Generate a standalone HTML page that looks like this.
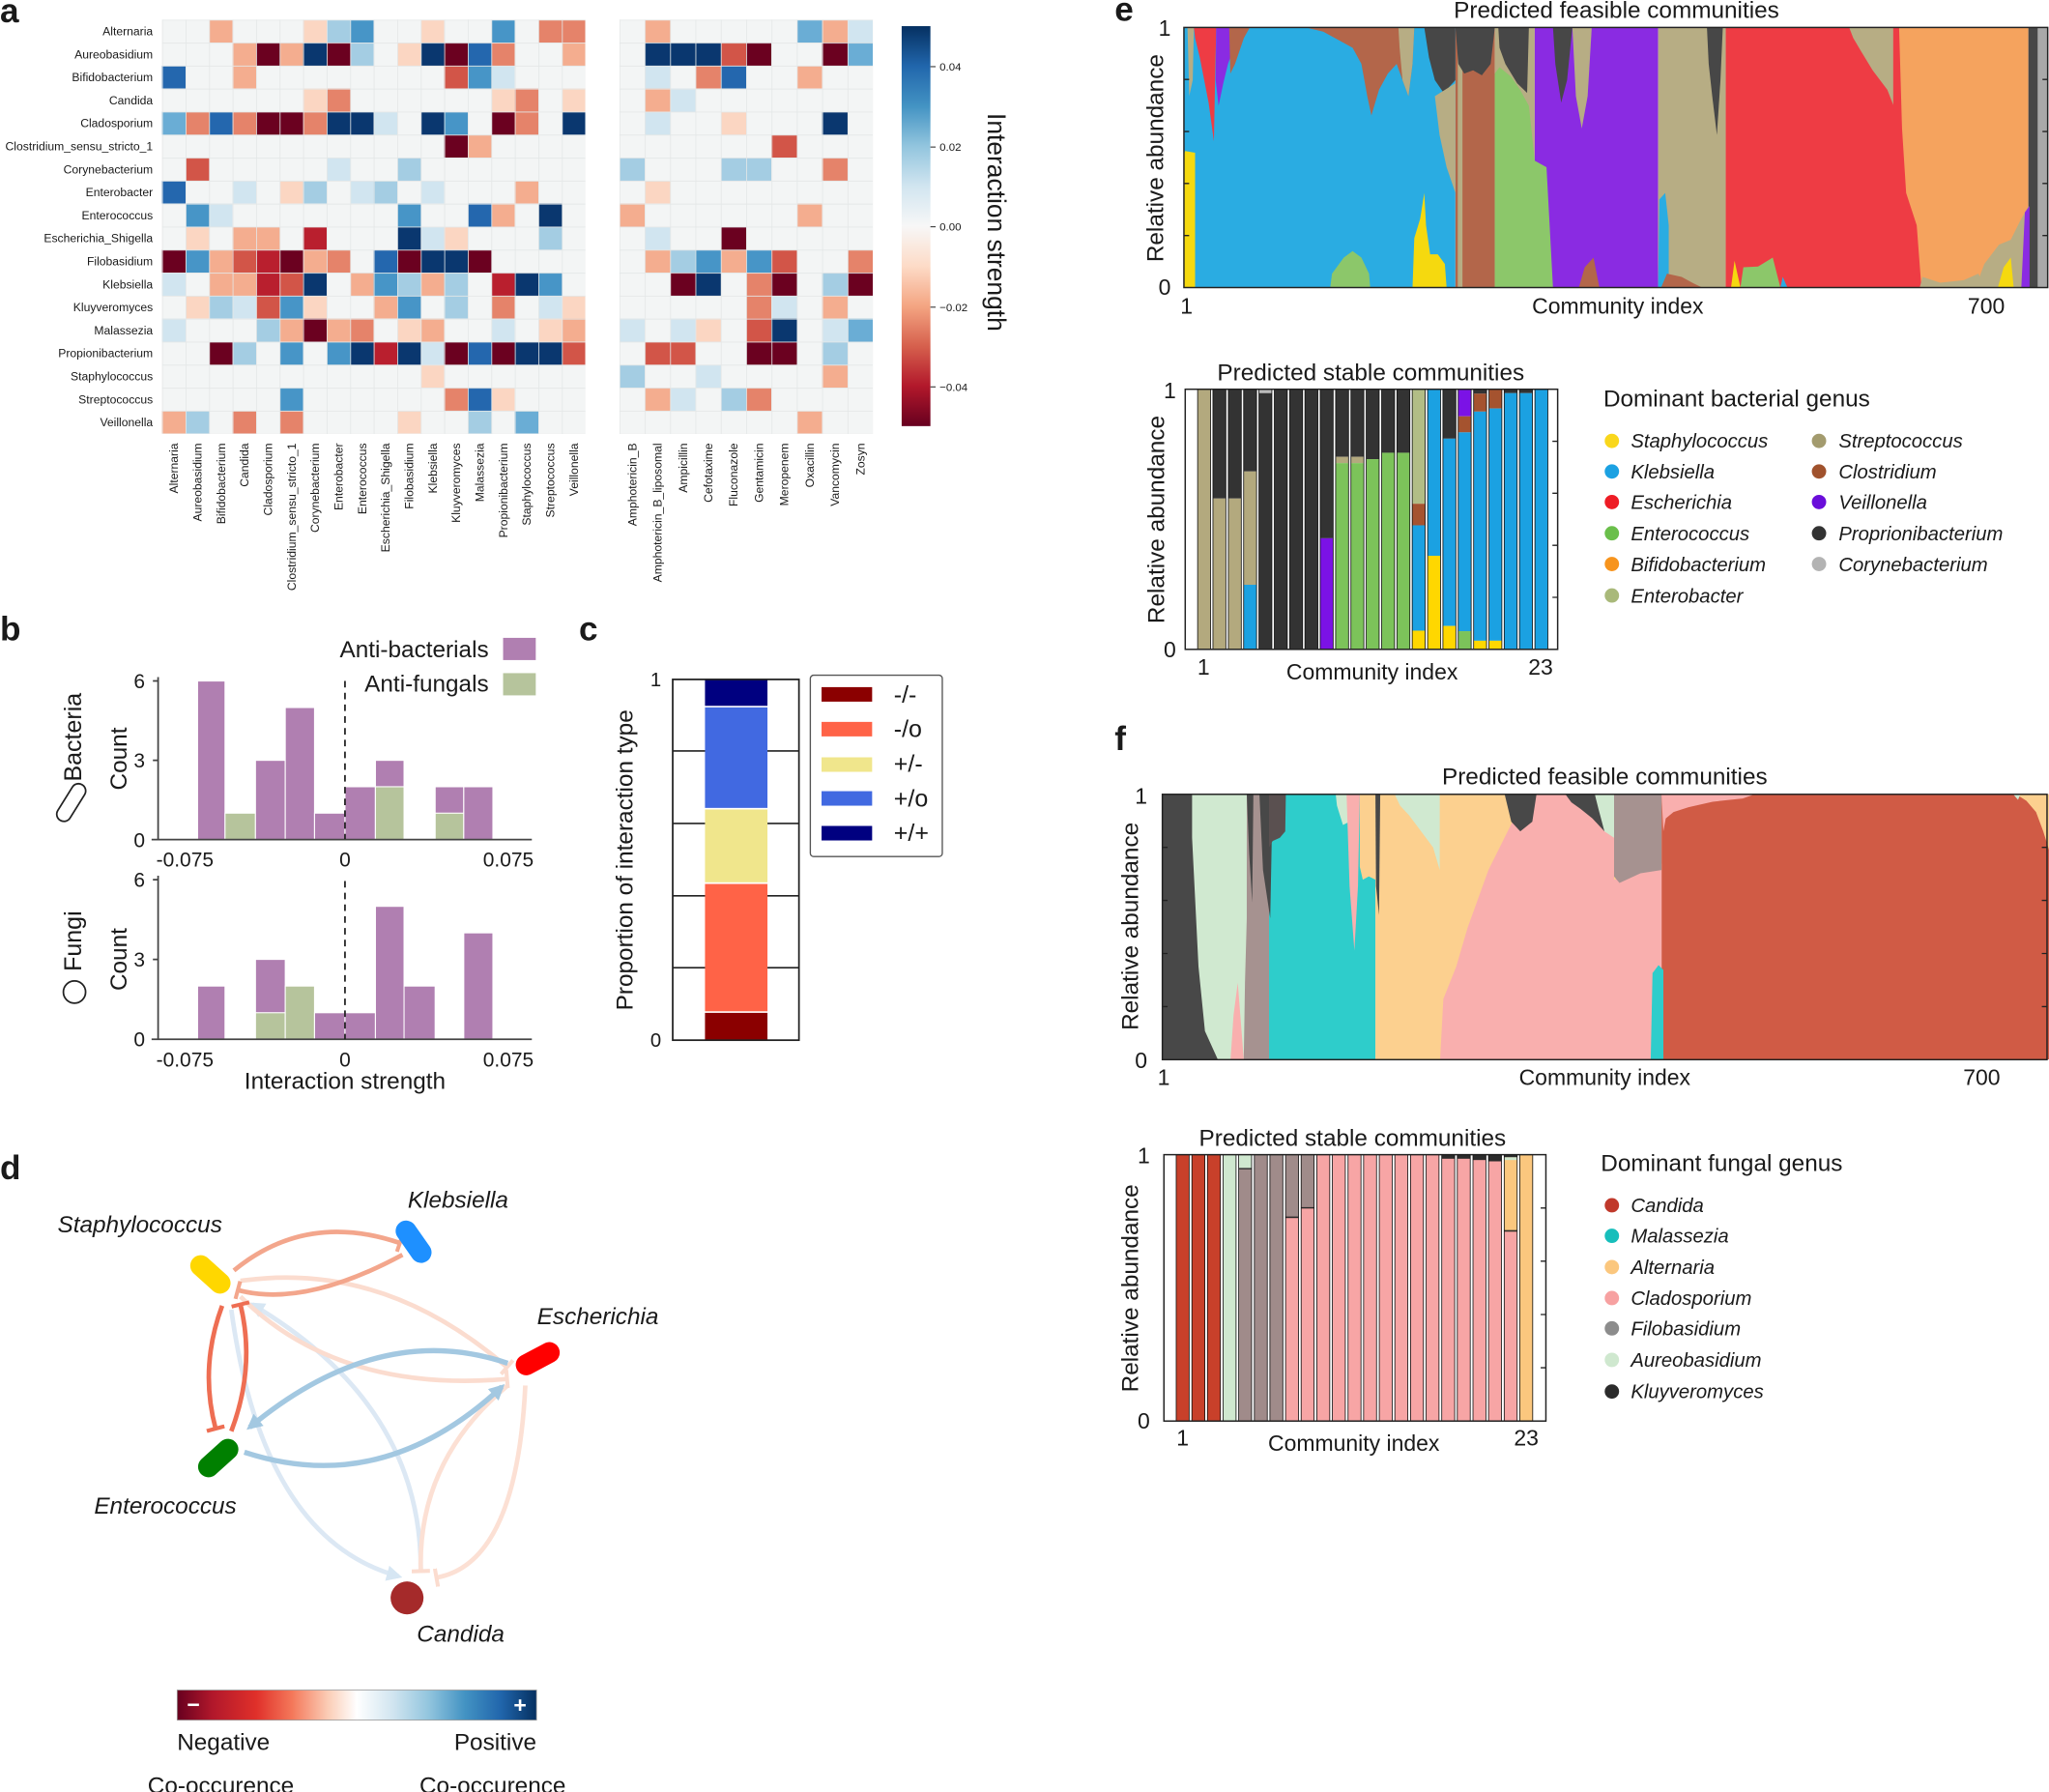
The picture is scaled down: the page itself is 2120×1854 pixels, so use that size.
<!DOCTYPE html>
<html><head><meta charset="utf-8">
<style>
html,body{margin:0;padding:0;background:#fff;overflow:hidden;}
svg{display:block;}
.W{fill:#f3f5f5}.p{fill:#fbd6c2}.q{fill:#f4ad8f}.s{fill:#e5836a}.r{fill:#d25548}.R{fill:#b91f2e}.D{fill:#6b0120}
.b{fill:#d1e5f0}.c{fill:#a4cde3}.l{fill:#6aadd5}.m{fill:#4795c7}.B{fill:#2467ae}.N{fill:#0a376f}
text{fill:#1a1a1a}
.it{font-style:italic}
.lab{font-size:9px;fill:#333}
</style></head><body>
<svg xmlns="http://www.w3.org/2000/svg" width="2120" height="1854" viewBox="0 0 1568 1371" preserveAspectRatio="none" font-family="'Liberation Sans', Arial, Helvetica, sans-serif">
<defs>
<linearGradient id="cbv" x1="0" y1="0" x2="0" y2="1">
<stop offset="0" stop-color="#053061"/><stop offset="0.1" stop-color="#2166ac"/><stop offset="0.2" stop-color="#4393c3"/><stop offset="0.3" stop-color="#92c5de"/><stop offset="0.4" stop-color="#d1e5f0"/><stop offset="0.5" stop-color="#f7f7f7"/><stop offset="0.6" stop-color="#fddbc7"/><stop offset="0.7" stop-color="#f4a582"/><stop offset="0.8" stop-color="#d6604d"/><stop offset="0.9" stop-color="#b2182b"/><stop offset="1" stop-color="#67001f"/>
</linearGradient>
<linearGradient id="cbh" x1="0" y1="0" x2="1" y2="0">
<stop offset="0" stop-color="#67001f"/><stop offset="0.1" stop-color="#b2182b"/><stop offset="0.22" stop-color="#e0302a"/><stop offset="0.32" stop-color="#f4785a"/><stop offset="0.42" stop-color="#fbcdb6"/><stop offset="0.5" stop-color="#ffffff"/><stop offset="0.6" stop-color="#d1e5f0"/><stop offset="0.7" stop-color="#92c5de"/><stop offset="0.8" stop-color="#4393c3"/><stop offset="0.9" stop-color="#2166ac"/><stop offset="1" stop-color="#053061"/>
</linearGradient>
<pattern id="gl" x="124" y="15" width="18" height="17.6" patternUnits="userSpaceOnUse"><path d="M0,0H18M0,0V17.6" stroke="#e4e7e7" stroke-width="1.2" fill="none"/></pattern>
<pattern id="gr" x="474" y="15" width="19.4" height="17.6" patternUnits="userSpaceOnUse"><path d="M0,0H19.4M0,0V17.6" stroke="#e4e7e7" stroke-width="1.2" fill="none"/></pattern>
<clipPath id="ce"><rect x="93" y="87" width="1470" height="806"/></clipPath>
<clipPath id="cf"><rect x="85" y="215" width="1475" height="823"/></clipPath>
<marker id="tS" viewBox="0 0 4 14" refX="2" refY="7" markerWidth="4" markerHeight="14" orient="auto" markerUnits="userSpaceOnUse"><path d="M2,0V14" stroke="#f3a68c" stroke-width="3"/></marker>
<marker id="tT" viewBox="0 0 4 14" refX="2" refY="7" markerWidth="4" markerHeight="14" orient="auto" markerUnits="userSpaceOnUse"><path d="M2,0V14" stroke="#ee6e53" stroke-width="3"/></marker>
<marker id="tP" viewBox="0 0 4 14" refX="2" refY="7" markerWidth="4" markerHeight="14" orient="auto" markerUnits="userSpaceOnUse"><path d="M2,0V14" stroke="#fbdccf" stroke-width="3"/></marker>
<marker id="aB" viewBox="0 0 12 12" refX="9" refY="6" markerWidth="12" markerHeight="12" orient="auto" markerUnits="userSpaceOnUse"><path d="M0,0L12,6L0,12z" fill="#a3c8e1"/></marker>
<marker id="aV" viewBox="0 0 12 12" refX="9" refY="6" markerWidth="12" markerHeight="12" orient="auto" markerUnits="userSpaceOnUse"><path d="M0,0L12,6L0,12z" fill="#d6e6f3"/></marker>
</defs>

<!-- ===== Panel a ===== -->
<text x="0" y="17" font-size="26" font-weight="bold">a</text>
<g transform="translate(124,15) scale(18,17.6)" shape-rendering="crispEdges">
<rect x="0" y="0" width="18" height="18" class="W"/>
<rect x="2" y="0" width="1" height="1" class="q"/><rect x="6" y="0" width="1" height="1" class="p"/><rect x="7" y="0" width="1" height="1" class="c"/><rect x="8" y="0" width="1" height="1" class="m"/><rect x="11" y="0" width="1" height="1" class="p"/><rect x="14" y="0" width="1" height="1" class="m"/><rect x="16" y="0" width="1" height="1" class="s"/><rect x="17" y="0" width="1" height="1" class="s"/>
<rect x="3" y="1" width="1" height="1" class="q"/><rect x="4" y="1" width="1" height="1" class="D"/><rect x="5" y="1" width="1" height="1" class="q"/><rect x="6" y="1" width="1" height="1" class="N"/><rect x="7" y="1" width="1" height="1" class="D"/><rect x="8" y="1" width="1" height="1" class="c"/><rect x="10" y="1" width="1" height="1" class="p"/><rect x="11" y="1" width="1" height="1" class="N"/><rect x="12" y="1" width="1" height="1" class="D"/><rect x="13" y="1" width="1" height="1" class="B"/><rect x="14" y="1" width="1" height="1" class="s"/><rect x="17" y="1" width="1" height="1" class="q"/>
<rect x="0" y="2" width="1" height="1" class="B"/><rect x="3" y="2" width="1" height="1" class="q"/><rect x="12" y="2" width="1" height="1" class="r"/><rect x="13" y="2" width="1" height="1" class="m"/><rect x="14" y="2" width="1" height="1" class="b"/>
<rect x="6" y="3" width="1" height="1" class="p"/><rect x="7" y="3" width="1" height="1" class="s"/><rect x="14" y="3" width="1" height="1" class="p"/><rect x="15" y="3" width="1" height="1" class="s"/><rect x="17" y="3" width="1" height="1" class="p"/>
<rect x="0" y="4" width="1" height="1" class="l"/><rect x="1" y="4" width="1" height="1" class="s"/><rect x="2" y="4" width="1" height="1" class="B"/><rect x="3" y="4" width="1" height="1" class="s"/><rect x="4" y="4" width="1" height="1" class="D"/><rect x="5" y="4" width="1" height="1" class="D"/><rect x="6" y="4" width="1" height="1" class="s"/><rect x="7" y="4" width="1" height="1" class="N"/><rect x="8" y="4" width="1" height="1" class="N"/><rect x="9" y="4" width="1" height="1" class="b"/><rect x="11" y="4" width="1" height="1" class="N"/><rect x="12" y="4" width="1" height="1" class="m"/><rect x="14" y="4" width="1" height="1" class="D"/><rect x="15" y="4" width="1" height="1" class="s"/><rect x="17" y="4" width="1" height="1" class="N"/>
<rect x="12" y="5" width="1" height="1" class="D"/><rect x="13" y="5" width="1" height="1" class="q"/>
<rect x="1" y="6" width="1" height="1" class="r"/><rect x="7" y="6" width="1" height="1" class="b"/><rect x="10" y="6" width="1" height="1" class="c"/>
<rect x="0" y="7" width="1" height="1" class="B"/><rect x="3" y="7" width="1" height="1" class="b"/><rect x="5" y="7" width="1" height="1" class="p"/><rect x="6" y="7" width="1" height="1" class="c"/><rect x="8" y="7" width="1" height="1" class="b"/><rect x="9" y="7" width="1" height="1" class="c"/><rect x="11" y="7" width="1" height="1" class="b"/><rect x="15" y="7" width="1" height="1" class="q"/>
<rect x="1" y="8" width="1" height="1" class="m"/><rect x="2" y="8" width="1" height="1" class="b"/><rect x="10" y="8" width="1" height="1" class="m"/><rect x="13" y="8" width="1" height="1" class="B"/><rect x="14" y="8" width="1" height="1" class="q"/><rect x="16" y="8" width="1" height="1" class="N"/>
<rect x="1" y="9" width="1" height="1" class="p"/><rect x="3" y="9" width="1" height="1" class="q"/><rect x="4" y="9" width="1" height="1" class="q"/><rect x="6" y="9" width="1" height="1" class="R"/><rect x="10" y="9" width="1" height="1" class="N"/><rect x="11" y="9" width="1" height="1" class="b"/><rect x="12" y="9" width="1" height="1" class="p"/><rect x="16" y="9" width="1" height="1" class="c"/>
<rect x="0" y="10" width="1" height="1" class="D"/><rect x="1" y="10" width="1" height="1" class="m"/><rect x="2" y="10" width="1" height="1" class="q"/><rect x="3" y="10" width="1" height="1" class="r"/><rect x="4" y="10" width="1" height="1" class="R"/><rect x="5" y="10" width="1" height="1" class="D"/><rect x="6" y="10" width="1" height="1" class="q"/><rect x="7" y="10" width="1" height="1" class="s"/><rect x="9" y="10" width="1" height="1" class="B"/><rect x="10" y="10" width="1" height="1" class="D"/><rect x="11" y="10" width="1" height="1" class="N"/><rect x="12" y="10" width="1" height="1" class="N"/><rect x="13" y="10" width="1" height="1" class="D"/>
<rect x="0" y="11" width="1" height="1" class="b"/><rect x="2" y="11" width="1" height="1" class="q"/><rect x="3" y="11" width="1" height="1" class="q"/><rect x="4" y="11" width="1" height="1" class="R"/><rect x="5" y="11" width="1" height="1" class="r"/><rect x="6" y="11" width="1" height="1" class="N"/><rect x="8" y="11" width="1" height="1" class="q"/><rect x="9" y="11" width="1" height="1" class="m"/><rect x="10" y="11" width="1" height="1" class="c"/><rect x="11" y="11" width="1" height="1" class="q"/><rect x="12" y="11" width="1" height="1" class="c"/><rect x="14" y="11" width="1" height="1" class="R"/><rect x="15" y="11" width="1" height="1" class="N"/><rect x="16" y="11" width="1" height="1" class="m"/>
<rect x="1" y="12" width="1" height="1" class="p"/><rect x="2" y="12" width="1" height="1" class="c"/><rect x="3" y="12" width="1" height="1" class="b"/><rect x="4" y="12" width="1" height="1" class="r"/><rect x="5" y="12" width="1" height="1" class="m"/><rect x="6" y="12" width="1" height="1" class="p"/><rect x="9" y="12" width="1" height="1" class="q"/><rect x="10" y="12" width="1" height="1" class="m"/><rect x="12" y="12" width="1" height="1" class="c"/><rect x="14" y="12" width="1" height="1" class="s"/><rect x="16" y="12" width="1" height="1" class="b"/><rect x="17" y="12" width="1" height="1" class="p"/>
<rect x="0" y="13" width="1" height="1" class="b"/><rect x="4" y="13" width="1" height="1" class="c"/><rect x="5" y="13" width="1" height="1" class="q"/><rect x="6" y="13" width="1" height="1" class="D"/><rect x="7" y="13" width="1" height="1" class="q"/><rect x="8" y="13" width="1" height="1" class="s"/><rect x="10" y="13" width="1" height="1" class="p"/><rect x="11" y="13" width="1" height="1" class="q"/><rect x="14" y="13" width="1" height="1" class="b"/><rect x="16" y="13" width="1" height="1" class="p"/><rect x="17" y="13" width="1" height="1" class="q"/>
<rect x="2" y="14" width="1" height="1" class="D"/><rect x="3" y="14" width="1" height="1" class="c"/><rect x="5" y="14" width="1" height="1" class="m"/><rect x="7" y="14" width="1" height="1" class="m"/><rect x="8" y="14" width="1" height="1" class="N"/><rect x="9" y="14" width="1" height="1" class="R"/><rect x="10" y="14" width="1" height="1" class="N"/><rect x="11" y="14" width="1" height="1" class="b"/><rect x="12" y="14" width="1" height="1" class="D"/><rect x="13" y="14" width="1" height="1" class="B"/><rect x="14" y="14" width="1" height="1" class="D"/><rect x="15" y="14" width="1" height="1" class="N"/><rect x="16" y="14" width="1" height="1" class="N"/><rect x="17" y="14" width="1" height="1" class="r"/>
<rect x="11" y="15" width="1" height="1" class="p"/>
<rect x="5" y="16" width="1" height="1" class="m"/><rect x="12" y="16" width="1" height="1" class="s"/><rect x="13" y="16" width="1" height="1" class="B"/><rect x="14" y="16" width="1" height="1" class="p"/>
<rect x="0" y="17" width="1" height="1" class="q"/><rect x="1" y="17" width="1" height="1" class="c"/><rect x="3" y="17" width="1" height="1" class="s"/><rect x="5" y="17" width="1" height="1" class="s"/><rect x="10" y="17" width="1" height="1" class="p"/><rect x="13" y="17" width="1" height="1" class="c"/><rect x="15" y="17" width="1" height="1" class="l"/>
</g>
<rect x="124" y="15" width="324" height="317" fill="url(#gl)"/>

<g transform="translate(474,15) scale(19.4,17.6)" shape-rendering="crispEdges">
<rect x="0" y="0" width="10" height="18" class="W"/>
<rect x="1" y="0" width="1" height="1" class="q"/><rect x="7" y="0" width="1" height="1" class="l"/><rect x="8" y="0" width="1" height="1" class="q"/><rect x="9" y="0" width="1" height="1" class="b"/>
<rect x="1" y="1" width="1" height="1" class="N"/><rect x="2" y="1" width="1" height="1" class="N"/><rect x="3" y="1" width="1" height="1" class="N"/><rect x="4" y="1" width="1" height="1" class="r"/><rect x="5" y="1" width="1" height="1" class="D"/><rect x="8" y="1" width="1" height="1" class="D"/><rect x="9" y="1" width="1" height="1" class="l"/>
<rect x="1" y="2" width="1" height="1" class="b"/><rect x="3" y="2" width="1" height="1" class="s"/><rect x="4" y="2" width="1" height="1" class="B"/><rect x="7" y="2" width="1" height="1" class="q"/>
<rect x="1" y="3" width="1" height="1" class="q"/><rect x="2" y="3" width="1" height="1" class="b"/>
<rect x="1" y="4" width="1" height="1" class="b"/><rect x="4" y="4" width="1" height="1" class="p"/><rect x="8" y="4" width="1" height="1" class="N"/>
<rect x="6" y="5" width="1" height="1" class="r"/>
<rect x="0" y="6" width="1" height="1" class="c"/><rect x="4" y="6" width="1" height="1" class="c"/><rect x="5" y="6" width="1" height="1" class="c"/><rect x="8" y="6" width="1" height="1" class="s"/>
<rect x="1" y="7" width="1" height="1" class="p"/>
<rect x="0" y="8" width="1" height="1" class="q"/><rect x="7" y="8" width="1" height="1" class="q"/>
<rect x="1" y="9" width="1" height="1" class="b"/><rect x="4" y="9" width="1" height="1" class="D"/>
<rect x="1" y="10" width="1" height="1" class="q"/><rect x="2" y="10" width="1" height="1" class="c"/><rect x="3" y="10" width="1" height="1" class="m"/><rect x="4" y="10" width="1" height="1" class="q"/><rect x="5" y="10" width="1" height="1" class="m"/><rect x="6" y="10" width="1" height="1" class="r"/><rect x="9" y="10" width="1" height="1" class="s"/>
<rect x="2" y="11" width="1" height="1" class="D"/><rect x="3" y="11" width="1" height="1" class="N"/><rect x="5" y="11" width="1" height="1" class="s"/><rect x="6" y="11" width="1" height="1" class="D"/><rect x="8" y="11" width="1" height="1" class="c"/><rect x="9" y="11" width="1" height="1" class="D"/>
<rect x="5" y="12" width="1" height="1" class="s"/><rect x="6" y="12" width="1" height="1" class="b"/><rect x="8" y="12" width="1" height="1" class="q"/>
<rect x="0" y="13" width="1" height="1" class="b"/><rect x="2" y="13" width="1" height="1" class="b"/><rect x="3" y="13" width="1" height="1" class="p"/><rect x="5" y="13" width="1" height="1" class="r"/><rect x="6" y="13" width="1" height="1" class="N"/><rect x="8" y="13" width="1" height="1" class="b"/><rect x="9" y="13" width="1" height="1" class="l"/>
<rect x="1" y="14" width="1" height="1" class="r"/><rect x="2" y="14" width="1" height="1" class="r"/><rect x="5" y="14" width="1" height="1" class="D"/><rect x="6" y="14" width="1" height="1" class="D"/><rect x="8" y="14" width="1" height="1" class="c"/>
<rect x="0" y="15" width="1" height="1" class="c"/><rect x="3" y="15" width="1" height="1" class="b"/><rect x="8" y="15" width="1" height="1" class="q"/>
<rect x="1" y="16" width="1" height="1" class="q"/><rect x="2" y="16" width="1" height="1" class="b"/><rect x="4" y="16" width="1" height="1" class="c"/><rect x="5" y="16" width="1" height="1" class="s"/>
<rect x="7" y="17" width="1" height="1" class="q"/>
</g>
<rect x="474" y="15" width="194" height="317" fill="url(#gr)"/>

<g class="lab" text-anchor="end">
<text x="117" y="27">Alternaria</text>
<text x="117" y="44.6">Aureobasidium</text>
<text x="117" y="62.2">Bifidobacterium</text>
<text x="117" y="79.8">Candida</text>
<text x="117" y="97.4">Cladosporium</text>
<text x="117" y="115">Clostridium_sensu_stricto_1</text>
<text x="117" y="132.6">Corynebacterium</text>
<text x="117" y="150.2">Enterobacter</text>
<text x="117" y="167.8">Enterococcus</text>
<text x="117" y="185.4">Escherichia_Shigella</text>
<text x="117" y="203">Filobasidium</text>
<text x="117" y="220.6">Klebsiella</text>
<text x="117" y="238.2">Kluyveromyces</text>
<text x="117" y="255.8">Malassezia</text>
<text x="117" y="273.4">Propionibacterium</text>
<text x="117" y="291">Staphylococcus</text>
<text x="117" y="308.6">Streptococcus</text>
<text x="117" y="326.2">Veillonella</text>
<text x="136.2" y="339" transform="rotate(-90 136.2 339)">Alternaria</text>
<text x="154.2" y="339" transform="rotate(-90 154.2 339)">Aureobasidium</text>
<text x="172.2" y="339" transform="rotate(-90 172.2 339)">Bifidobacterium</text>
<text x="190.2" y="339" transform="rotate(-90 190.2 339)">Candida</text>
<text x="208.2" y="339" transform="rotate(-90 208.2 339)">Cladosporium</text>
<text x="226.2" y="339" transform="rotate(-90 226.2 339)">Clostridium_sensu_stricto_1</text>
<text x="244.2" y="339" transform="rotate(-90 244.2 339)">Corynebacterium</text>
<text x="262.2" y="339" transform="rotate(-90 262.2 339)">Enterobacter</text>
<text x="280.2" y="339" transform="rotate(-90 280.2 339)">Enterococcus</text>
<text x="298.2" y="339" transform="rotate(-90 298.2 339)">Escherichia_Shigella</text>
<text x="316.2" y="339" transform="rotate(-90 316.2 339)">Filobasidium</text>
<text x="334.2" y="339" transform="rotate(-90 334.2 339)">Klebsiella</text>
<text x="352.2" y="339" transform="rotate(-90 352.2 339)">Kluyveromyces</text>
<text x="370.2" y="339" transform="rotate(-90 370.2 339)">Malassezia</text>
<text x="388.2" y="339" transform="rotate(-90 388.2 339)">Propionibacterium</text>
<text x="406.2" y="339" transform="rotate(-90 406.2 339)">Staphylococcus</text>
<text x="424.2" y="339" transform="rotate(-90 424.2 339)">Streptococcus</text>
<text x="442.2" y="339" transform="rotate(-90 442.2 339)">Veillonella</text>
<text x="486.9" y="339" transform="rotate(-90 486.9 339)">Amphotericin_B</text>
<text x="506.3" y="339" transform="rotate(-90 506.3 339)">Amphotericin_B_liposomal</text>
<text x="525.7" y="339" transform="rotate(-90 525.7 339)">Ampicillin</text>
<text x="545.1" y="339" transform="rotate(-90 545.1 339)">Cefotaxime</text>
<text x="564.5" y="339" transform="rotate(-90 564.5 339)">Fluconazole</text>
<text x="583.9" y="339" transform="rotate(-90 583.9 339)">Gentamicin</text>
<text x="603.3" y="339" transform="rotate(-90 603.3 339)">Meropenem</text>
<text x="622.7" y="339" transform="rotate(-90 622.7 339)">Oxacillin</text>
<text x="642.1" y="339" transform="rotate(-90 642.1 339)">Vancomycin</text>
<text x="661.5" y="339" transform="rotate(-90 661.5 339)">Zosyn</text>
</g>

<!-- colorbar -->
<rect x="690" y="20" width="22" height="306" fill="url(#cbv)"/>
<g stroke="#333" stroke-width="0.8">
<line x1="712" y1="51" x2="716" y2="51"/><line x1="712" y1="112.5" x2="716" y2="112.5"/><line x1="712" y1="173.5" x2="716" y2="173.5"/><line x1="712" y1="235" x2="716" y2="235"/><line x1="712" y1="296" x2="716" y2="296"/>
</g>
<g font-size="8.5" fill="#333">
<text x="719" y="54">0.04</text><text x="719" y="115.5">0.02</text><text x="719" y="176.5">0.00</text><text x="719" y="238">−0.02</text><text x="719" y="299">−0.04</text>
</g>
<text transform="translate(756,170) rotate(90)" text-anchor="middle" font-size="19.5">Interaction strength</text>

<!-- ===== Panel b ===== -->
<text x="0" y="490" font-size="26" font-weight="bold">b</text>
<text x="374" y="503" text-anchor="end" font-size="18">Anti-bacterials</text>
<rect x="385" y="488" width="25" height="17" fill="#b07fb1"/>
<text x="374" y="529" text-anchor="end" font-size="18">Anti-fungals</text>
<rect x="385" y="515" width="25" height="17" fill="#b6c49c"/>
<text transform="translate(62,564) rotate(-90)" text-anchor="middle" font-size="18.5">Bacteria</text>
<rect x="-16" y="-5.5" width="32" height="11" rx="5.5" transform="translate(54.5,614) rotate(-58)" fill="none" stroke="#222" stroke-width="1.3"/>
<text transform="translate(62,720) rotate(-90)" text-anchor="middle" font-size="18.5">Fungi</text>
<circle cx="57" cy="759" r="8.5" fill="none" stroke="#222" stroke-width="1.3"/>
<text transform="translate(97,580.5) rotate(-90)" text-anchor="middle" font-size="18">Count</text>
<text transform="translate(97,734) rotate(-90)" text-anchor="middle" font-size="18">Count</text>
<g stroke="#fff" stroke-width="0.8">
<rect x="151.2" y="521" width="21" height="121.3" fill="#b07fb1"/>
<rect x="172.2" y="622.1" width="23.3" height="20.2" fill="#b6c49c"/>
<rect x="195.5" y="581.7" width="22.8" height="60.6" fill="#b07fb1"/>
<rect x="218.3" y="541.3" width="22.4" height="101" fill="#b07fb1"/>
<rect x="240.7" y="622.1" width="23.3" height="20.2" fill="#b07fb1"/>
<rect x="264" y="601.9" width="23.3" height="40.4" fill="#b07fb1"/>
<rect x="287.3" y="581.7" width="21.9" height="60.6" fill="#b07fb1"/>
<rect x="287.3" y="601.9" width="21.9" height="40.4" fill="#b6c49c"/>
<rect x="333" y="601.9" width="21.9" height="40.4" fill="#b07fb1"/>
<rect x="333" y="622.1" width="21.9" height="20.2" fill="#b6c49c"/>
<rect x="354.9" y="601.9" width="22.3" height="40.4" fill="#b07fb1"/>
<rect x="151.2" y="754.4" width="21" height="40.7" fill="#b07fb1"/>
<rect x="195.5" y="734" width="22.8" height="61.1" fill="#b07fb1"/>
<rect x="195.5" y="774.8" width="22.8" height="20.3" fill="#b6c49c"/>
<rect x="218.3" y="754.4" width="22.4" height="40.7" fill="#b6c49c"/>
<rect x="240.7" y="774.8" width="23.3" height="20.3" fill="#b07fb1"/>
<rect x="264" y="774.8" width="23.3" height="20.3" fill="#b07fb1"/>
<rect x="287.3" y="693.4" width="21.9" height="101.7" fill="#b07fb1"/>
<rect x="309.2" y="754.4" width="23.8" height="40.7" fill="#b07fb1"/>
<rect x="354.9" y="713.7" width="22.3" height="81.4" fill="#b07fb1"/>
</g>
<g stroke="#444" stroke-width="1.3" fill="none">
<path d="M121,518V642.3M116,642.3H407M117,521H121M117,581.7H121M117,642.3H121"/>
<path d="M121,670V795.1M116,795.1H407M117,673H121M117,734H121M117,795.1H121"/>
</g>
<g stroke="#222" stroke-width="1.3" stroke-dasharray="5,4">
<line x1="264" y1="521" x2="264" y2="642"/><line x1="264" y1="674" x2="264" y2="795"/>
</g>
<g font-size="15.5" text-anchor="end">
<text x="111" y="526.5">6</text><text x="111" y="587">3</text><text x="111" y="648">0</text>
<text x="111" y="678.5">6</text><text x="111" y="739.5">3</text><text x="111" y="800.5">0</text>
</g>
<g font-size="15.5" text-anchor="middle">
<text x="141.5" y="663">-0.075</text><text x="264" y="663">0</text><text x="389" y="663">0.075</text>
<text x="141.5" y="816">-0.075</text><text x="264" y="816">0</text><text x="389" y="816">0.075</text>
</g>
<text x="264" y="833" text-anchor="middle" font-size="18">Interaction strength</text>

<!-- ===== Panel c ===== -->
<text x="443" y="490" font-size="26" font-weight="bold">c</text>
<g stroke="#222" stroke-width="1.2">
<path d="M515,574.5H612M515,630H612M515,685.4H612M515,740.4H612" />
</g>
<rect x="539.5" y="519.8" width="47.8" height="20.2" fill="#000080"/>
<rect x="539.5" y="541.2" width="47.8" height="76.9" fill="#4169e1"/>
<rect x="539.5" y="619.3" width="47.8" height="55.7" fill="#f0e68c"/>
<rect x="539.5" y="676.3" width="47.8" height="97.4" fill="#ff6347"/>
<rect x="539.5" y="774.9" width="47.8" height="20.9" fill="#8b0000"/>
<rect x="514.8" y="519.8" width="96.6" height="276" fill="none" stroke="#222" stroke-width="1.3"/>
<text x="506" y="525" font-size="15" text-anchor="end">1</text>
<text x="506" y="801" font-size="15" text-anchor="end">0</text>
<text transform="translate(484,658) rotate(-90)" text-anchor="middle" font-size="18">Proportion of interaction type</text>
<rect x="620.1" y="516.6" width="101" height="138.7" rx="2.5" fill="#fff" stroke="#555" stroke-width="1"/>
<rect x="628.7" y="525.7" width="38.7" height="11.1" fill="#8b0000"/>
<rect x="628.7" y="552.3" width="38.7" height="11.1" fill="#ff6347"/>
<rect x="628.7" y="579.4" width="38.7" height="11.1" fill="#f0e68c"/>
<rect x="628.7" y="605.3" width="38.7" height="11.1" fill="#4169e1"/>
<rect x="628.7" y="631.9" width="38.7" height="11.1" fill="#000080"/>
<g font-size="18.5">
<text x="684" y="537.5">-/-</text><text x="684" y="564">-/o</text><text x="684" y="590.5">+/-</text><text x="684" y="617">+/o</text><text x="684" y="643.5">+/+</text>
</g>

<!-- ===== Panel d ===== -->
<text x="0" y="902" font-size="26" font-weight="bold">d</text>
<g fill="none">
<path d="M177,1002 Q201,1177.5 305,1206" stroke="#dce8f4" stroke-width="3.5" marker-end="url(#aV)"/>
<path d="M322,1202 Q323,1075 193,998" stroke="#dce8f4" stroke-width="3.5" marker-end="url(#aV)"/>
<path d="M388.5,1060 Q319.5,1117.5 322,1202" stroke="#fce0d4" stroke-width="3.5" marker-end="url(#tP)"/>
<path d="M402,1060 Q395.4,1196.2 334,1207" stroke="#fce0d4" stroke-width="3.5" marker-end="url(#tP)"/>
<path d="M184,980 Q293,964 388,1046" stroke="#fbdccf" stroke-width="3.5" marker-end="url(#tP)"/>
<path d="M184,992 Q259,1066 388,1055" stroke="#fbdccf" stroke-width="3.5" marker-end="url(#tP)"/>
<path d="M388.5,1043 Q290.6,1009.5 191,1092" stroke="#a3c8e1" stroke-width="4" marker-end="url(#aB)"/>
<path d="M187,1111 Q293,1146 384,1061" stroke="#a3c8e1" stroke-width="4" marker-end="url(#aB)"/>
<path d="M179,972 Q234.4,926.6 306,951" stroke="#f3a68c" stroke-width="3.5" marker-end="url(#tS)"/>
<path d="M308,960 Q232.7,1000.6 182,987" stroke="#f3a68c" stroke-width="3.5" marker-end="url(#tS)"/>
<path d="M170,999 Q152.5,1046 165,1093" stroke="#ee6e53" stroke-width="3.5" marker-end="url(#tT)"/>
<path d="M177,1095 Q195.6,1046 184,998" stroke="#ee6e53" stroke-width="3.5" marker-end="url(#tT)"/>
</g>
<rect x="-18" y="-8" width="36" height="16" rx="8" transform="translate(161,975) rotate(42)" fill="#ffd700"/>
<rect x="-18" y="-8" width="36" height="16" rx="8" transform="translate(316.5,950) rotate(55)" fill="#1e90ff"/>
<rect x="-18" y="-8" width="36" height="16" rx="8" transform="translate(411.5,1039.5) rotate(-28)" fill="#ff0000"/>
<rect x="-18" y="-8" width="36" height="16" rx="8" transform="translate(167,1115.5) rotate(-42)" fill="#008000"/>
<circle cx="311.5" cy="1222.5" r="12.6" fill="#a52a2a"/>
<g class="it" font-size="18">
<text x="44" y="943">Staphylococcus</text>
<text x="312" y="924">Klebsiella</text>
<text x="411" y="1013">Escherichia</text>
<text x="72" y="1158">Enterococcus</text>
<text x="319" y="1256">Candida</text>
</g>
<rect x="135.6" y="1293" width="275" height="23" fill="url(#cbh)" stroke="#999" stroke-width="0.6"/>
<text x="148" y="1310" font-size="17" font-weight="bold" fill="#fff" style="fill:#fff" text-anchor="middle">−</text>
<text x="398" y="1310.5" font-size="17" font-weight="bold" fill="#fff" style="fill:#fff" text-anchor="middle">+</text>
<text x="135.5" y="1339" font-size="18">Negative</text>
<text x="410.5" y="1339" font-size="18" text-anchor="end">Positive</text>
<text x="113" y="1372" font-size="18">Co-occurence</text>
<text x="321" y="1372" font-size="18">Co-occurence</text>

<!-- ===== Panel e ===== -->
<text x="853" y="16" font-size="26" font-weight="bold">e</text>
<text x="1237" y="13.5" text-anchor="middle" font-size="18">Predicted feasible communities</text>
<g transform="translate(864.18,-0.48) scale(0.4497,0.2469)">
<g clip-path="url(#ce)">
<rect x="93" y="87" width="19" height="806" fill="#2aace2"/>
<rect x="112" y="87" width="443" height="806" fill="#2aace2"/>
<rect x="555" y="87" width="67" height="806" fill="#b3664a"/>
<rect x="622" y="87" width="68" height="806" fill="#b7ad84"/>
<rect x="690" y="87" width="210" height="806" fill="#8a2be2"/>
<rect x="900" y="87" width="115" height="806" fill="#b7ad84"/>
<rect x="1015" y="87" width="290" height="806" fill="#ee3c44"/>
<rect x="1305" y="87" width="225" height="806" fill="#f5a35e"/>
<rect x="1530" y="87" width="16" height="806" fill="#474747"/>
<rect x="1546" y="87" width="17" height="806" fill="#a9a9a9"/>
<polygon points="93,480 95,470 112,475 112,893 93,893" fill="#f5d90f"/>
<polygon points="99,87 110,87 108,250 102,300 100,150" fill="#b7ad84"/>
<polygon points="110,87 148,87 146,250 144,440 135,320 120,180 112,120" fill="#ee3c44"/>
<polygon points="148,87 180,87 178,150 168,200 160,260 152,330 147,250" fill="#8a2be2"/>
<polygon points="170,87 205,87 195,120 180,200 172,230" fill="#b3664a"/>
<polygon points="300,87 485,87 482,200 475,300 465,250 455,200 440,230 425,280 412,360 405,300 395,200 380,150 350,120 330,100" fill="#b3664a"/>
<polygon points="458,87 485,87 482,200 475,300 465,250 460,150" fill="#b7ad84"/>
<polygon points="502,87 555,87 555,250 535,290 520,250 510,180" fill="#474747"/>
<polygon points="520,300 555,260 555,600 540,520 528,420" fill="#b7ad84"/>
<rect x="559" y="87" width="8" height="806" fill="#b7ad84"/>
<polygon points="555,87 622,87 615,200 600,235 585,220 570,230 560,200" fill="#474747"/>
<polygon points="482,893 485,740 495,680 502,600 505,700 512,790 525,790 537,820 540,893" fill="#f5d90f"/>
<polygon points="342,893 345,850 365,800 380,780 395,800 408,850 410,893" fill="#8cc76a"/>
<polygon points="622,893 622,230 630,210 650,240 665,280 680,330 690,500 710,520 721,893" fill="#8cc76a"/>
<polygon points="628,87 680,87 677,290 660,260 640,200 630,150" fill="#474747"/>
<polygon points="721,87 754,87 745,250 735,320 725,200" fill="#474747"/>
<polygon points="754,87 787,87 780,300 770,400 760,300" fill="#b7ad84"/>
<polygon points="765,893 775,830 790,800 800,893" fill="#b3664a"/>
<polygon points="900,893 902,620 912,600 918,700 918,893" fill="#2aace2"/>
<polygon points="983,87 1010,87 1006,250 1000,420 992,300 986,200" fill="#474747"/>
<polygon points="905,893 915,850 940,860 960,880 975,893" fill="#b3664a"/>
<polygon points="1225,87 1305,87 1305,350 1290,280 1265,220 1245,160 1232,120" fill="#b7ad84"/>
<polygon points="1300,87 1310,87 1315,400 1322,600 1340,700 1348,893 1300,893" fill="#ee3c44"/>
<polygon points="1040,893 1045,830 1070,828 1095,800 1108,893" fill="#8cc76a"/>
<polygon points="1024,893 1030,810 1040,893" fill="#f5d90f"/>
<polygon points="1108,893 1112,860 1120,893" fill="#2aace2"/>
<polygon points="1345,893 1350,860 1380,878 1420,870 1445,850 1455,893" fill="#b7ad84"/>
<polygon points="1440,893 1455,820 1480,760 1500,745 1515,690 1530,640 1530,893" fill="#b7ad84"/>
<polygon points="1478,893 1488,830 1500,800 1505,893" fill="#f5d90f"/>
<polygon points="1518,893 1524,660 1532,640 1532,893" fill="#8a2be2"/>
</g>
</g>
<rect x="906" y="21" width="661" height="199" fill="none" stroke="#222" stroke-width="1.1"/>
<g stroke="#222" stroke-width="1">
<path d="M906,60.8h4M906,100.6h4M906,140.4h4M906,180.2h4M1567,60.8h-4M1567,100.6h-4M1567,140.4h-4M1567,180.2h-4"/>
</g>
<g font-size="17">
<text x="896" y="27.5" text-anchor="end">1</text>
<text x="896" y="225.5" text-anchor="end">0</text>
<text x="908" y="240" text-anchor="middle">1</text>
<text x="1238" y="240" text-anchor="middle">Community index</text>
<text x="1520" y="240" text-anchor="middle">700</text>
</g>
<text transform="translate(890,121) rotate(-90)" text-anchor="middle" font-size="18">Relative abundance</text>

<!-- e bottom -->
<text x="1049" y="291" text-anchor="middle" font-size="18">Predicted stable communities</text>
<g stroke="none">
<rect x="916.5" y="297.8" width="9.9" height="199" fill="#b3a97e"/>
<rect x="928.2" y="297.8" width="9.9" height="83.6" fill="#333"/><rect x="928.2" y="381.4" width="9.9" height="115.4" fill="#b3a97e"/>
<rect x="940" y="297.8" width="9.9" height="83.6" fill="#333"/><rect x="940" y="381.4" width="9.9" height="115.4" fill="#b3a97e"/>
<rect x="951.7" y="297.8" width="9.9" height="62.9" fill="#333"/><rect x="951.7" y="360.7" width="9.9" height="86.7" fill="#b3a97e"/><rect x="951.7" y="447.4" width="9.9" height="49.4" fill="#1ba1e2"/>
<rect x="963.4" y="297.8" width="9.9" height="199" fill="#333"/><rect x="963.4" y="297.8" width="9.9" height="3" fill="#bbb"/>
<rect x="975.2" y="297.8" width="9.9" height="199" fill="#333"/>
<rect x="986.9" y="297.8" width="9.9" height="199" fill="#333"/>
<rect x="998.6" y="297.8" width="9.9" height="199" fill="#333"/>
<rect x="1010.3" y="297.8" width="9.9" height="114" fill="#333"/><rect x="1010.3" y="411.8" width="9.9" height="85" fill="#7b12e6"/>
<rect x="1022.1" y="297.8" width="9.9" height="51.7" fill="#333"/><rect x="1022.1" y="349.5" width="9.9" height="4.8" fill="#b3a97e"/><rect x="1022.1" y="354.3" width="9.9" height="142.5" fill="#7cc35a"/>
<rect x="1033.8" y="297.8" width="9.9" height="51.7" fill="#333"/><rect x="1033.8" y="349.5" width="9.9" height="4.8" fill="#b3a97e"/><rect x="1033.8" y="354.3" width="9.9" height="142.5" fill="#7cc35a"/>
<rect x="1045.5" y="297.8" width="9.9" height="53.5" fill="#333"/><rect x="1045.5" y="351.3" width="9.9" height="145.5" fill="#7cc35a"/>
<rect x="1057.3" y="297.8" width="9.9" height="48.6" fill="#333"/><rect x="1057.3" y="346.4" width="9.9" height="150.4" fill="#7cc35a"/>
<rect x="1069" y="297.8" width="9.9" height="48.6" fill="#333"/><rect x="1069" y="346.4" width="9.9" height="150.4" fill="#7cc35a"/>
<rect x="1080.7" y="297.8" width="9.9" height="87.6" fill="#b2bd86"/><rect x="1080.7" y="385.4" width="9.9" height="16.5" fill="#a5532f"/><rect x="1080.7" y="401.9" width="9.9" height="80.6" fill="#1ba1e2"/><rect x="1080.7" y="482.5" width="9.9" height="14.3" fill="#ffd700"/>
<rect x="1092.5" y="297.8" width="9.9" height="127.4" fill="#1ba1e2"/><rect x="1092.5" y="425.2" width="9.9" height="71.6" fill="#ffd700"/>
<rect x="1104.2" y="297.8" width="9.9" height="37.8" fill="#333"/><rect x="1104.2" y="335.6" width="9.9" height="143.3" fill="#1ba1e2"/><rect x="1104.2" y="478.9" width="9.9" height="17.9" fill="#ffd700"/>
<rect x="1115.9" y="297.8" width="9.9" height="20.7" fill="#7b12e6"/><rect x="1115.9" y="318.5" width="9.9" height="12.3" fill="#a5532f"/><rect x="1115.9" y="330.8" width="9.9" height="152.1" fill="#1ba1e2"/><rect x="1115.9" y="482.9" width="9.9" height="13.9" fill="#7cc35a"/>
<rect x="1127.7" y="297.8" width="9.9" height="3.4" fill="#333"/><rect x="1127.7" y="301.2" width="9.9" height="13.7" fill="#a5532f"/><rect x="1127.7" y="314.9" width="9.9" height="175.3" fill="#1ba1e2"/><rect x="1127.7" y="490.2" width="9.9" height="6.6" fill="#ffd700"/>
<rect x="1139.4" y="297.8" width="9.9" height="14.7" fill="#a5532f"/><rect x="1139.4" y="312.5" width="9.9" height="177.7" fill="#1ba1e2"/><rect x="1139.4" y="490.2" width="9.9" height="6.6" fill="#ffd700"/>
<rect x="1151.1" y="297.8" width="9.9" height="3" fill="#333"/><rect x="1151.1" y="300.8" width="9.9" height="196" fill="#1ba1e2"/>
<rect x="1162.8" y="297.8" width="9.9" height="3" fill="#333"/><rect x="1162.8" y="300.8" width="9.9" height="196" fill="#1ba1e2"/>
<rect x="1174.6" y="297.8" width="9.9" height="199" fill="#1ba1e2"/>
</g>
<g fill="none" stroke="#111" stroke-width="0.6">
<rect x="916.5" y="297.8" width="9.9" height="199"/><rect x="928.2" y="297.8" width="9.9" height="199"/><rect x="940" y="297.8" width="9.9" height="199"/><rect x="951.7" y="297.8" width="9.9" height="199"/><rect x="963.4" y="297.8" width="9.9" height="199"/><rect x="975.2" y="297.8" width="9.9" height="199"/><rect x="986.9" y="297.8" width="9.9" height="199"/><rect x="998.6" y="297.8" width="9.9" height="199"/><rect x="1010.3" y="297.8" width="9.9" height="199"/><rect x="1022.1" y="297.8" width="9.9" height="199"/><rect x="1033.8" y="297.8" width="9.9" height="199"/><rect x="1045.5" y="297.8" width="9.9" height="199"/><rect x="1057.3" y="297.8" width="9.9" height="199"/><rect x="1069" y="297.8" width="9.9" height="199"/><rect x="1080.7" y="297.8" width="9.9" height="199"/><rect x="1092.5" y="297.8" width="9.9" height="199"/><rect x="1104.2" y="297.8" width="9.9" height="199"/><rect x="1115.9" y="297.8" width="9.9" height="199"/><rect x="1127.7" y="297.8" width="9.9" height="199"/><rect x="1139.4" y="297.8" width="9.9" height="199"/><rect x="1151.1" y="297.8" width="9.9" height="199"/><rect x="1162.8" y="297.8" width="9.9" height="199"/><rect x="1174.6" y="297.8" width="9.9" height="199"/>
</g>
<rect x="907" y="297.8" width="285" height="199" fill="none" stroke="#222" stroke-width="1.1"/>
<g stroke="#222" stroke-width="1"><path d="M1192,337.6h-4M1192,377.4h-4M1192,417.2h-4M1192,457h-4"/></g>
<g font-size="17">
<text x="900" y="304.5" text-anchor="end">1</text>
<text x="900" y="503" text-anchor="end">0</text>
<text x="921" y="516" text-anchor="middle">1</text>
<text x="1050" y="520" text-anchor="middle">Community index</text>
<text x="1179" y="516" text-anchor="middle">23</text>
</g>
<text transform="translate(891,397.5) rotate(-90)" text-anchor="middle" font-size="18">Relative abundance</text>
<text x="1227" y="311" font-size="18">Dominant bacterial genus</text>
<g>
<circle cx="1233.5" cy="337.3" r="5.5" fill="#f9d71c"/><circle cx="1233.5" cy="360.7" r="5.5" fill="#1ba1e2"/><circle cx="1233.5" cy="384.1" r="5.5" fill="#ee1c25"/><circle cx="1233.5" cy="408" r="5.5" fill="#6abf4b"/><circle cx="1233.5" cy="431.5" r="5.5" fill="#f7941d"/><circle cx="1233.5" cy="455.6" r="5.5" fill="#a9b97a"/>
<circle cx="1392" cy="337.3" r="5.5" fill="#a39b6e"/><circle cx="1392" cy="360.7" r="5.5" fill="#a0522d"/><circle cx="1392" cy="384.1" r="5.5" fill="#6a0dda"/><circle cx="1392" cy="408" r="5.5" fill="#333"/><circle cx="1392" cy="431.5" r="5.5" fill="#b3b3b3"/>
</g>
<g class="it" font-size="15">
<text x="1248" y="342.5">Staphylococcus</text><text x="1248" y="366">Klebsiella</text><text x="1248" y="389.5">Escherichia</text><text x="1248" y="413.5">Enterococcus</text><text x="1248" y="437">Bifidobacterium</text><text x="1248" y="461">Enterobacter</text>
<text x="1407" y="342.5">Streptococcus</text><text x="1407" y="366">Clostridium</text><text x="1407" y="389.5">Veillonella</text><text x="1407" y="413.5">Proprionibacterium</text><text x="1407" y="437">Corynebacterium</text>
</g>

<!-- ===== Panel f ===== -->
<text x="853" y="574" font-size="26" font-weight="bold">f</text>
<text x="1228" y="600" text-anchor="middle" font-size="18">Predicted feasible communities</text>
<g transform="translate(850.6,554.7) scale(0.46,0.2465)">
<g clip-path="url(#cf)">
<rect x="85" y="215" width="40" height="823" fill="#484848"/>
<rect x="125" y="215" width="100" height="823" fill="#d0e9d0"/>
<rect x="225" y="215" width="37" height="823" fill="#a69290"/>
<rect x="262" y="215" width="177" height="823" fill="#2ecdcb"/>
<rect x="439" y="215" width="476" height="823" fill="#fcd08f"/>
<rect x="915" y="215" width="645" height="823" fill="#d05b45"/>
<polygon points="123,215 134,215 134,350 144.7,750 155.4,950 176.8,1038 123,1038" fill="#484848"/>
<polygon points="198,1038 203,900 210,800 220,1038" fill="#f9afae"/>
<polygon points="220,1038 222,800 225,600 225,330 230,215 262,215 262,1038" fill="#a69290"/>
<polygon points="225,215 236,215 234,550 229,400" fill="#484848"/>
<polygon points="246,215 268,215 264,600 252,450" fill="#484848"/>
<polygon points="262,215 290,215 289,330 280,350 268,360 262,380" fill="#5a5050"/>
<polygon points="373,215 396,215 396,300 385,310 375,250" fill="#d0e9d0"/>
<polygon points="391,215 413,215 410,500 404,700 396,500" fill="#f9afae"/>
<polygon points="413,215 439,215 439,480 428,470 418,480 413,440" fill="#fcd08f"/>
<polygon points="439,215 447,215 445,590 440,500" fill="#484848"/>
<polygon points="471,215 546,215 546,450 535,380 515,330 495,280 480,250" fill="#d0e9d0"/>
<polygon points="546.6,1038 552,850 573.4,750 592.2,630 627,450 659,330 680.6,250 707.4,215 836,215 836,480 870,460 915,430 915,1038" fill="#f9afae"/>
<polygon points="836,215 915,215 915,450 880,460 845,490 836,470" fill="#a69290"/>
<polygon points="654,215 707,215 700,300 680,330 665,300" fill="#484848"/>
<polygon points="755,215 825,215 820,330 800,290 780,260 765,240" fill="#484848"/>
<polygon points="804,215 836,215 836,350 820,330 810,260" fill="#d0e9d0"/>
<polygon points="897,1038 900,770 910,745 918,760 918,1038" fill="#2ecdcb"/>
<polygon points="915,215 1070,215 1050,228 1000,238 960,255 935,270 922,290 918,330" fill="#f9afae"/>
<polygon points="1505,215 1560,215 1560,390 1550,330 1538,270 1522,235" fill="#fcd08f"/>
<polygon points="1500,215 1512,215 1508,232" fill="#d0e9d0"/>
</g>
</g>
<rect x="889.5" y="607.7" width="677" height="203" fill="none" stroke="#222" stroke-width="1.1"/>
<g stroke="#222" stroke-width="1">
<path d="M889.5,648.3h4M889.5,688.9h4M889.5,729.5h4M889.5,770.1h4M1566.5,648.3h-4M1566.5,688.9h-4M1566.5,729.5h-4M1566.5,770.1h-4"/>
</g>
<g font-size="17">
<text x="878" y="615" text-anchor="end">1</text>
<text x="878" y="817" text-anchor="end">0</text>
<text x="890.5" y="830" text-anchor="middle">1</text>
<text x="1228" y="830" text-anchor="middle">Community index</text>
<text x="1516.5" y="830" text-anchor="middle">700</text>
</g>
<text transform="translate(871,708.7) rotate(-90)" text-anchor="middle" font-size="18">Relative abundance</text>

<!-- f bottom -->
<text x="1035" y="876.5" text-anchor="middle" font-size="18">Predicted stable communities</text>
<g>
<rect x="900.1" y="883.4" width="9.9" height="203.8" fill="#c8402a"/>
<rect x="912.1" y="883.4" width="9.9" height="203.8" fill="#c8402a"/>
<rect x="924" y="883.4" width="9.9" height="203.8" fill="#c8402a"/>
<rect x="936" y="883.4" width="9.9" height="203.8" fill="#cfe8cf"/>
<rect x="947.9" y="883.4" width="9.9" height="203.8" fill="#a08b8a"/><rect x="947.9" y="883.4" width="9.9" height="10.2" fill="#cfe8cf"/><rect x="947.9" y="893.6" width="9.9" height="1" fill="#2b2b2b"/>
<rect x="959.9" y="883.4" width="9.9" height="203.8" fill="#a08b8a"/>
<rect x="971.8" y="883.4" width="9.9" height="203.8" fill="#a08b8a"/>
<rect x="983.8" y="883.4" width="9.9" height="203.8" fill="#f7a5a5"/><rect x="983.8" y="883.4" width="9.9" height="47.3" fill="#a08b8a"/><rect x="983.8" y="930.7" width="9.9" height="1.2" fill="#2b2b2b"/>
<rect x="995.7" y="883.4" width="9.9" height="203.8" fill="#f7a5a5"/><rect x="995.7" y="883.4" width="9.9" height="40.1" fill="#a08b8a"/><rect x="995.7" y="923.5" width="9.9" height="1.1" fill="#2b2b2b"/>
<rect x="1007.7" y="883.4" width="9.9" height="203.8" fill="#f7a5a5"/>
<rect x="1019.6" y="883.4" width="9.9" height="203.8" fill="#f7a5a5"/>
<rect x="1031.6" y="883.4" width="9.9" height="203.8" fill="#f7a5a5"/>
<rect x="1043.5" y="883.4" width="9.9" height="203.8" fill="#f7a5a5"/>
<rect x="1055.5" y="883.4" width="9.9" height="203.8" fill="#f7a5a5"/>
<rect x="1067.4" y="883.4" width="9.9" height="203.8" fill="#f7a5a5"/>
<rect x="1079.4" y="883.4" width="9.9" height="203.8" fill="#f7a5a5"/>
<rect x="1091.3" y="883.4" width="9.9" height="203.8" fill="#f7a5a5"/>
<rect x="1103.3" y="883.4" width="9.9" height="203.8" fill="#f7a5a5"/><rect x="1103.3" y="883.4" width="9.9" height="3.1" fill="#2b2b2b"/>
<rect x="1115.2" y="883.4" width="9.9" height="203.8" fill="#f7a5a5"/><rect x="1115.2" y="883.4" width="9.9" height="3.1" fill="#2b2b2b"/>
<rect x="1127.2" y="883.4" width="9.9" height="203.8" fill="#f7a5a5"/><rect x="1127.2" y="883.4" width="9.9" height="4.1" fill="#2b2b2b"/>
<rect x="1139.1" y="883.4" width="9.9" height="203.8" fill="#f7a5a5"/><rect x="1139.1" y="883.4" width="9.9" height="5.1" fill="#2b2b2b"/>
<rect x="1151.1" y="883.4" width="9.9" height="203.8" fill="#f7a5a5"/><rect x="1151.1" y="883.4" width="9.9" height="58.9" fill="#fbc77e"/><rect x="1151.1" y="883.4" width="9.9" height="2" fill="#2b2b2b"/><rect x="1151.1" y="885.4" width="9.9" height="2.1" fill="#cfe8cf"/><rect x="1151.1" y="941.1" width="9.9" height="1.2" fill="#2b2b2b"/>
<rect x="1163" y="883.4" width="9.9" height="203.8" fill="#fbc77e"/>
</g>
<g fill="none" stroke="#111" stroke-width="0.6">
<rect x="900.1" y="883.4" width="9.9" height="203.8"/><rect x="912.1" y="883.4" width="9.9" height="203.8"/><rect x="924" y="883.4" width="9.9" height="203.8"/><rect x="936" y="883.4" width="9.9" height="203.8"/><rect x="947.9" y="883.4" width="9.9" height="203.8"/><rect x="959.9" y="883.4" width="9.9" height="203.8"/><rect x="971.8" y="883.4" width="9.9" height="203.8"/><rect x="983.8" y="883.4" width="9.9" height="203.8"/><rect x="995.7" y="883.4" width="9.9" height="203.8"/><rect x="1007.7" y="883.4" width="9.9" height="203.8"/><rect x="1019.6" y="883.4" width="9.9" height="203.8"/><rect x="1031.6" y="883.4" width="9.9" height="203.8"/><rect x="1043.5" y="883.4" width="9.9" height="203.8"/><rect x="1055.5" y="883.4" width="9.9" height="203.8"/><rect x="1067.4" y="883.4" width="9.9" height="203.8"/><rect x="1079.4" y="883.4" width="9.9" height="203.8"/><rect x="1091.3" y="883.4" width="9.9" height="203.8"/><rect x="1103.3" y="883.4" width="9.9" height="203.8"/><rect x="1115.2" y="883.4" width="9.9" height="203.8"/><rect x="1127.2" y="883.4" width="9.9" height="203.8"/><rect x="1139.1" y="883.4" width="9.9" height="203.8"/><rect x="1151.1" y="883.4" width="9.9" height="203.8"/><rect x="1163" y="883.4" width="9.9" height="203.8"/>
</g>
<rect x="890.7" y="883.4" width="292.3" height="203.8" fill="none" stroke="#222" stroke-width="1.1"/>
<g stroke="#222" stroke-width="1"><path d="M1183,924.2h-4M1183,964.9h-4M1183,1005.7h-4M1183,1046.4h-4"/></g>
<g font-size="17">
<text x="880" y="890" text-anchor="end">1</text>
<text x="880" y="1093" text-anchor="end">0</text>
<text x="905" y="1106" text-anchor="middle">1</text>
<text x="1036" y="1110" text-anchor="middle">Community index</text>
<text x="1168" y="1106" text-anchor="middle">23</text>
</g>
<text transform="translate(871,985.6) rotate(-90)" text-anchor="middle" font-size="18">Relative abundance</text>
<text x="1225" y="896" font-size="18">Dominant fungal genus</text>
<g>
<circle cx="1233.5" cy="922.1" r="5.5" fill="#c0392b"/><circle cx="1233.5" cy="945.5" r="5.5" fill="#17bebb"/><circle cx="1233.5" cy="969.4" r="5.5" fill="#fbc77e"/><circle cx="1233.5" cy="993.1" r="5.5" fill="#f7a1a1"/><circle cx="1233.5" cy="1016.3" r="5.5" fill="#8c8c8c"/><circle cx="1233.5" cy="1040.4" r="5.5" fill="#cfe8cf"/><circle cx="1233.5" cy="1064.6" r="5.5" fill="#2b2b2b"/>
</g>
<g class="it" font-size="15">
<text x="1248" y="927.3">Candida</text><text x="1248" y="950.7">Malassezia</text><text x="1248" y="974.6">Alternaria</text><text x="1248" y="998.3">Cladosporium</text><text x="1248" y="1021.5">Filobasidium</text><text x="1248" y="1045.6">Aureobasidium</text><text x="1248" y="1069.8">Kluyveromyces</text>
</g>
</svg>
</body></html>
